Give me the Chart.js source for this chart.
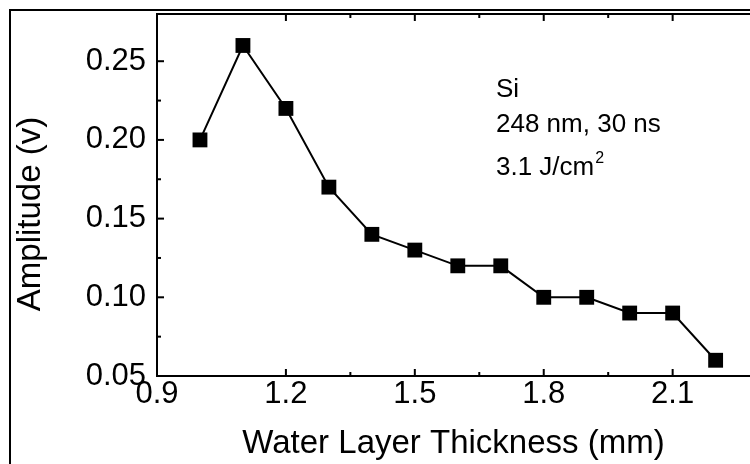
<!DOCTYPE html>
<html>
<head>
<meta charset="utf-8">
<script src="https://cdn.jsdelivr.net/npm/chart.js@4/dist/chart.umd.min.js"></script>
<style>
  html, body { margin: 0; padding: 0; background: #fff; }
  #wrap { width: 750px; height: 464px; position: relative; }
</style>
</head>
<body>
<div id="wrap"><canvas id="c" width="750" height="464"></canvas></div>
<script>
// ---- data ----
const thickness = [1.0, 1.1, 1.2, 1.3, 1.4, 1.5, 1.6, 1.7, 1.8, 1.9, 2.0, 2.1, 2.2];
const amplitude = [0.20, 0.26, 0.22, 0.17, 0.14, 0.13, 0.12, 0.12, 0.10, 0.10, 0.09, 0.09, 0.06];
const xTickLabels = ['0.9', '1.2', '1.5', '1.8', '2.1'];
const yTickLabels = ['0.05', '0.10', '0.15', '0.20', '0.25'];
const xTitle = 'Water Layer Thickness (mm)';
const yTitle = 'Amplitude (v)';
const noteLines = ['Si', '248 nm, 30 ns', '3.1 J/cm'];
const noteSup = '2';

const FONT = '"Liberation Sans", Arial, Helvetica, sans-serif';

function labelFor(list, v, start, step) {
  const k = (v - start) / step;
  const r = Math.round(k);
  if (Math.abs(k - r) < 1e-6 && r >= 0 && r < list.length) return list[r];
  return '';
}

const decor = {
  id: 'decor',
  beforeDraw(chart) {
    const ctx = chart.ctx;
    ctx.save();
    ctx.strokeStyle = '#000';
    ctx.lineWidth = 2;
    ctx.beginPath();
    ctx.moveTo(10, 464); ctx.lineTo(10, 10); ctx.lineTo(750, 10);
    ctx.stroke();
    ctx.restore();
  },
  afterDraw(chart) {
    const ctx = chart.ctx;
    const a = chart.chartArea;
    const xs = chart.scales.x, ys = chart.scales.y;
    ctx.save();
    ctx.strokeStyle = '#000';
    ctx.lineWidth = 2;
    ctx.beginPath();
    ctx.moveTo(a.left, a.top); ctx.lineTo(750, a.top);
    ctx.stroke();
    xs.ticks.forEach(t => {
      const k = (t.value - 0.9) / 0.15;
      if (Math.abs(k - Math.round(k)) > 1e-6) return;
      const px = xs.getPixelForValue(t.value);
      const major = t.label !== '';
      const len = major ? 7 : 4;
      ctx.beginPath();
      ctx.moveTo(px, a.bottom); ctx.lineTo(px, a.bottom - len);
      ctx.moveTo(px, a.top); ctx.lineTo(px, a.top + len);
      ctx.stroke();
    });
    ys.ticks.forEach(t => {
      const k = (t.value - 0.05) / 0.025;
      if (Math.abs(k - Math.round(k)) > 1e-6) return;
      const py = ys.getPixelForValue(t.value);
      const major = t.label !== '';
      const len = major ? 7 : 4;
      ctx.beginPath();
      ctx.moveTo(a.left, py); ctx.lineTo(a.left + len, py);
      ctx.stroke();
    });
    ctx.fillStyle = '#000';
    ctx.font = '33px ' + FONT;
    ctx.textAlign = 'center';
    ctx.textBaseline = 'middle';
    ctx.translate(31, 214);
    ctx.rotate(-Math.PI / 2);
    ctx.fillText(yTitle, 0, 0);
    ctx.restore();

    ctx.save();
    ctx.fillStyle = '#000';
    ctx.font = '26px ' + FONT;
    ctx.textAlign = 'left';
    ctx.textBaseline = 'alphabetic';
    const x0 = 496;
    const baselines = [97, 132, 175];
    noteLines.forEach((s, i) => ctx.fillText(s, x0, baselines[i]));
    const w = ctx.measureText(noteLines[2]).width;
    ctx.font = '16px ' + FONT;
    ctx.fillText(noteSup, x0 + w + 1, 163);
    ctx.restore();
  }
};

new Chart(document.getElementById('c'), {
  type: 'line',
  data: {
    datasets: [{
      data: thickness.map((x, i) => ({ x: x, y: amplitude[i] })),
      borderColor: '#000',
      backgroundColor: '#000',
      borderWidth: 2,
      pointStyle: 'rect',
      pointRadius: 10.5,
      pointHoverRadius: 10.5,
      pointBackgroundColor: '#000',
      pointBorderColor: '#000',
      pointBorderWidth: 0,
      tension: 0,
      clip: false
    }]
  },
  options: {
    responsive: false,
    animation: false,
    events: [],
    layout: { autoPadding: false, padding: { left: 0, right: 0, top: 14, bottom: 0 } },
    plugins: { legend: { display: false }, tooltip: { enabled: false } },
    scales: {
      x: {
        type: 'linear',
        min: 0.9,
        max: 2.28,
        grid: { display: false },
        border: { display: true, color: '#000', width: 2 },
        ticks: {
          stepSize: 0.15,
          autoSkip: false,
          maxRotation: 0,
          padding: -8,
          color: '#000',
          font: { family: FONT, size: 31 },
          callback: v => labelFor(xTickLabels, v, 0.9, 0.3)
        },
        title: {
          display: true,
          text: xTitle,
          color: '#000',
          font: { family: FONT, size: 33 },
          padding: { top: 3, bottom: 0 }
        },
        afterFit: s => { s.height = 88; s.paddingLeft = 0; s.paddingRight = 0; }
      },
      y: {
        type: 'linear',
        min: 0.05,
        max: 0.28,
        grid: { display: false },
        border: { display: true, color: '#000', width: 2 },
        ticks: {
          stepSize: 0.025,
          autoSkip: false,
          padding: 3,
          color: '#000',
          font: { family: FONT, size: 31 },
          callback: v => labelFor(yTickLabels, v, 0.05, 0.05)
        },
        afterFit: s => { s.width = 157; s.paddingTop = 0; s.paddingBottom = 0; }
      }
    }
  },
  plugins: [decor]
});
</script>
</body>
</html>
